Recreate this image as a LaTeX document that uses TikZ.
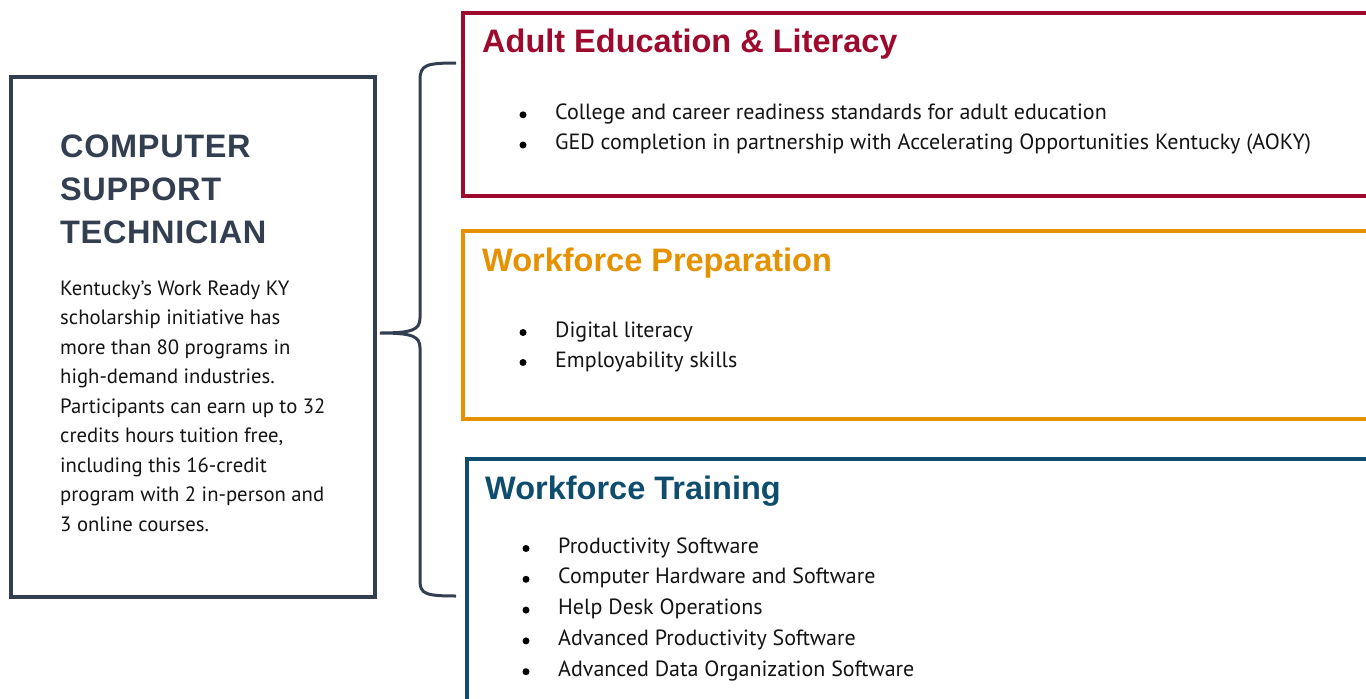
\documentclass[tikz,border=0pt]{standalone}
\usepackage{fontspec}
\setmainfont{PT Sans}
\newfontfamily\headfont{Liberation Sans}
\newfontfamily\spacedfont{Liberation Sans}[LetterSpace=2]
\definecolor{slate}{HTML}{333F50}
\definecolor{kyred}{HTML}{9E0A2E}
\definecolor{kyorange}{HTML}{E69100}
\definecolor{kyblue}{HTML}{0E4D6D}
\tikzset{
  heading/.style={anchor=base west, inner sep=0pt, font=\headfont\bfseries\fontsize{32.5}{32.5}\selectfont},
  jobtitle/.style={heading, text=slate, font=\spacedfont\bfseries\fontsize{32.5}{32.5}\selectfont},
  entry/.style={anchor=base west, inner sep=0pt, text=black!92, font=\fontsize{22}{22}\selectfont},
  blurb/.style={entry, font=\fontsize{20.7}{20.7}\selectfont},
  frame/.style={line width=4pt},
}
\begin{document}
\begin{tikzpicture}[x=1pt,y=-1pt]
\useasboundingbox (0,0) rectangle (1366,699);
\clip (0,0) rectangle (1366,699);
\fill [white] (0,0) rectangle (1366,699);
% left box
\draw [slate, frame] (11,77) rectangle (375,597);
\node [jobtitle] (cst1) at (60,157) {COMPUTER};
\node [jobtitle] (cst2) at (60,200) {SUPPORT};
\node [jobtitle] (cst3) at (60,243) {TECHNICIAN};
\foreach \txt [count=\i] in {Kentucky’s Work Ready KY, scholarship initiative has,
    more than 80 programs in, high-demand industries., Participants can earn up to 32,
    {credits hours tuition free,}, including this 16-credit, program with 2 in-person and,
    3 online courses.}
  \node [blurb] (body\i) at (60,{295+29.5*(\i-1)}) {\txt};
% brace
\coordinate (bracetop) at (456,63);
\coordinate (bracetip) at (380,333);
\coordinate (bracebot) at (456,596);
\draw [slate, line width=3pt] (bracetop) .. controls (426,63) and (420,65) .. (420,80)
  -- (420,318) .. controls (420,330) and (412,333) .. (bracetip)
  .. controls (412,333) and (420,336) .. (420,348)
  -- (420,581) .. controls (420,594) and (426,596) .. (bracebot);
% adult education
\draw [kyred, frame] (463,13) rectangle (1400,196);
\node [heading, text=kyred] (ael) at (482,52) {Adult Education \& Literacy};
\foreach \txt [count=\i] in {College and career readiness standards for adult education,
    GED completion in partnership with Accelerating Opportunities Kentucky (AOKY)} {
  \node [entry] (ael\i) at (555,{119.3+30.2*(\i-1)}) {\txt};
  \fill ([xshift=-32pt,yshift=4.5pt]ael\i.base west) circle (3.5);
}
% workforce preparation
\draw [kyorange, frame] (463,231) rectangle (1400,419);
\node [heading, text=kyorange] (wfp) at (482,271) {Workforce Preparation};
\foreach \txt [count=\i] in {Digital literacy, Employability skills} {
  \node [entry] (wfp\i) at (555,{337+30*(\i-1)}) {\txt};
  \fill ([xshift=-32pt,yshift=4.5pt]wfp\i.base west) circle (3.5);
}
% workforce training
\draw [kyblue, frame] (466.5,459) rectangle (1400,760);
\node [heading, text=kyblue] (wft) at (485,499) {Workforce Training};
\foreach \txt [count=\i] in {Productivity Software, Computer Hardware and Software,
    Help Desk Operations, Advanced Productivity Software, Advanced Data Organization Software} {
  \node [entry] (wft\i) at (558,{553+30.8*(\i-1)}) {\txt};
  \fill ([xshift=-32pt,yshift=4.5pt]wft\i.base west) circle (3.5);
}
\end{tikzpicture}
\end{document}
